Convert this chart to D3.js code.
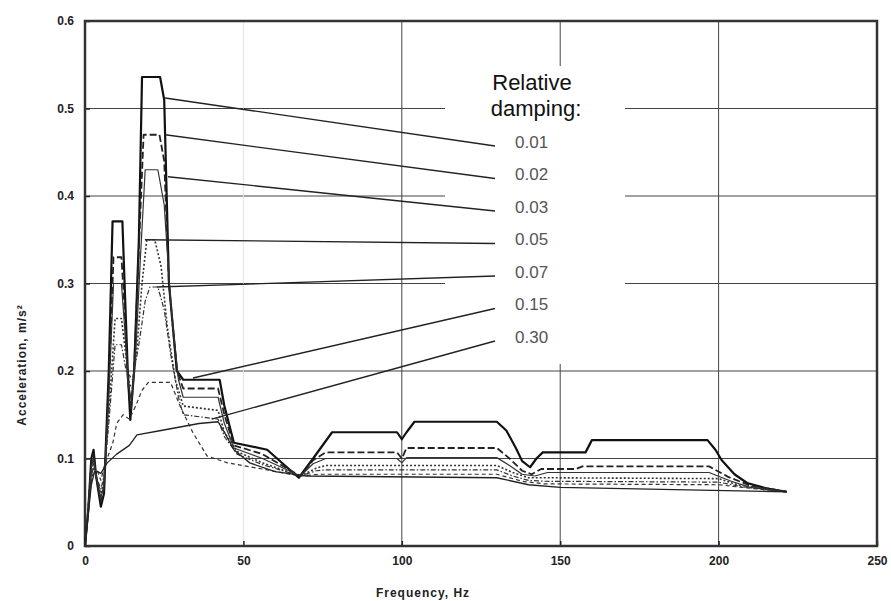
<!DOCTYPE html>
<html>
<head>
<meta charset="utf-8">
<script src="https://cdn.jsdelivr.net/npm/d3@7"></script>
<style>
body { margin: 0; background: #fff; }
svg { display: block; font-family: "Liberation Sans", Arial, sans-serif; }
.axis text { font-size: 12px; font-weight: bold; fill: #222; }
.axis path { display: none; }
.axis line { stroke: #222; stroke-width: 1.5; }
</style>
</head>
<body>
<script>
var width = 891, height = 601;
var margin = {left: 85, top: 21, right: 14, bottom: 55};

// damping ratios shown in the legend, top to bottom
var dampings = ["0.01", "0.02", "0.03", "0.05", "0.07", "0.15", "0.30"];

// response spectra: [frequency Hz, acceleration m/s2]
var acc001 = [[0,0],[1,0.04],[2,0.1],[2.7,0.11],[3.5,0.08],[5,0.045],[6,0.06],[7.5,0.2],[8.7,0.371],[11.8,0.371],[12.5,0.3],[13.5,0.2],[14.3,0.144],[15.5,0.2],[17,0.35],[18,0.536],[23.7,0.536],[25,0.51],[26.5,0.3],[29,0.2],[31,0.19],[42.5,0.19],[44,0.16],[47,0.118],[57.5,0.11],[67.5,0.078],[72,0.1],[78,0.13],[98.5,0.13],[100,0.122],[101.5,0.13],[104,0.142],[130,0.142],[133,0.132],[136,0.112],[138,0.097],[140.5,0.09],[142.5,0.1],[144.5,0.107],[158,0.107],[160,0.121],[196.5,0.121],[199,0.11],[201,0.098],[205,0.082],[209,0.072],[215,0.066],[221.5,0.062]];
var acc002 = [[0,0],[1,0.04],[2,0.095],[2.7,0.105],[3.5,0.08],[5,0.05],[6,0.065],[7.5,0.18],[9,0.33],[11.5,0.33],[12.5,0.27],[13.5,0.19],[14.5,0.155],[15.5,0.2],[17,0.34],[18.5,0.47],[23.5,0.47],[25,0.44],[26.5,0.3],[29,0.2],[31,0.18],[42,0.18],[44,0.15],[47,0.115],[56,0.105],[68,0.08],[72,0.098],[76,0.107],[98.5,0.107],[100,0.1],[101.5,0.112],[130,0.112],[134,0.1],[138,0.086],[141,0.082],[144,0.088],[155,0.088],[157,0.091],[197,0.091],[203,0.079],[210,0.069],[221.5,0.062]];
var acc003 = [[0,0],[1,0.04],[2,0.09],[2.7,0.1],[3.5,0.08],[5,0.055],[6,0.07],[7.5,0.17],[9,0.3],[11.5,0.3],[12.5,0.25],[13.5,0.19],[14.7,0.165],[16,0.22],[17.5,0.33],[19,0.43],[23,0.43],[25,0.39],[27,0.28],[29.5,0.19],[31,0.17],[42,0.17],[44,0.14],[47,0.112],[56,0.1],[68,0.08],[72,0.094],[76,0.1],[98.5,0.1],[100,0.095],[101.5,0.101],[130,0.101],[134,0.092],[138,0.082],[142,0.08],[146,0.084],[197,0.084],[204,0.074],[210,0.067],[221.5,0.062]];
var acc005 = [[0,0],[1,0.04],[2,0.085],[2.7,0.095],[3.5,0.08],[5,0.06],[6,0.075],[7.5,0.15],[9.5,0.26],[11.5,0.26],[12.5,0.23],[14,0.185],[15,0.18],[16.5,0.23],[18,0.3],[19.5,0.35],[22,0.35],[24,0.32],[26,0.25],[28.5,0.19],[31,0.16],[42,0.155],[44,0.13],[48,0.108],[56,0.095],[68,0.08],[73,0.089],[76,0.092],[130,0.092],[135,0.084],[140,0.078],[145,0.078],[200,0.077],[206,0.07],[221.5,0.062]];
var acc007 = [[0,0],[1,0.04],[2,0.08],[2.7,0.09],[3.5,0.08],[5,0.065],[6,0.08],[7.5,0.14],[9.5,0.23],[11.5,0.23],[13,0.2],[15,0.19],[17,0.23],[19,0.28],[20.5,0.296],[23,0.296],[25,0.27],[27,0.22],[29.5,0.17],[31,0.15],[42,0.145],[44,0.125],[48,0.105],[56,0.093],[68,0.08],[73,0.086],[76,0.087],[130,0.087],[135,0.08],[140,0.075],[145,0.074],[200,0.073],[207,0.068],[221.5,0.062]];
var acc015 = [[0,0],[1,0.04],[2,0.075],[3,0.09],[4,0.085],[5,0.075],[6,0.09],[8.8,0.118],[10,0.14],[12,0.15],[14,0.145],[16,0.16],[18,0.178],[20,0.187],[27,0.187],[30,0.16],[34,0.13],[38.5,0.103],[45,0.095],[56,0.088],[68,0.08],[74,0.082],[130,0.082],[138,0.074],[145,0.071],[200,0.07],[210,0.066],[221.5,0.062]];
var acc030 = [[0,0],[1,0.035],[2,0.07],[3,0.085],[4,0.085],[5,0.083],[7,0.095],[10,0.105],[14,0.115],[16.4,0.127],[24,0.132],[30,0.136],[36,0.14],[42,0.142],[44,0.13],[47,0.11],[52,0.095],[60,0.085],[70,0.08],[130,0.078],[140,0.07],[150,0.067],[221.5,0.062]];
var spectra = [acc001, acc002, acc003, acc005, acc007, acc015, acc030];

// point on each curve where its leader line to the legend label starts
var leaderStart = [[25.3,0.512],[25.3,0.47],[26.2,0.422],[18.9,0.35],[22.7,0.296],[34.1,0.192],[40,0.145]];

var xTicks = [0, 50, 100, 150, 200, 250];
var yTicks = [0, 0.1, 0.2, 0.3, 0.4, 0.5, 0.6];

var lineStyles = [
  {dash: null, w: 2.2, c: "#111"},
  {dash: "7,3", w: 1.8, c: "#222"},
  {dash: null, w: 1.2, c: "#333"},
  {dash: "2,2", w: 1.6, c: "#333"},
  {dash: "5,2,1.5,2", w: 1.2, c: "#333"},
  {dash: "4,3", w: 1.2, c: "#333"},
  {dash: null, w: 1.3, c: "#222"}
];

var x = d3.scaleLinear().domain([0, 250]).range([margin.left, width - margin.right + 0]);
x.range([85, 877]);
var y = d3.scaleLinear().domain([0, 0.6]).range([546, 21]);

var svg = d3.select("body").append("svg")
    .attr("width", width)
    .attr("height", height);

// grid
svg.append("g").selectAll("line.hgrid")
   .data(yTicks.slice(1, -1))
   .enter().append("line")
   .attr("x1", x(0)).attr("x2", x(250))
   .attr("y1", function(d){ return y(d); }).attr("y2", function(d){ return y(d); })
   .style("stroke", "#444").style("stroke-width", 1);

svg.append("g").selectAll("line.vgrid")
   .data(xTicks.slice(1, -1))
   .enter().append("line")
   .attr("x1", function(d){ return x(d); }).attr("x2", function(d){ return x(d); })
   .attr("y1", y(0)).attr("y2", y(0.6))
   .style("stroke", function(d){ return d === 50 ? "#e4e4e4" : "#444"; })
   .style("stroke-width", 1);

// white panel behind the legend
svg.append("rect")
   .attr("x", 445).attr("y", 66)
   .attr("width", 180).attr("height", 298)
   .style("fill", "#fff");

// axes
svg.append("g")
   .attr("class", "axis")
   .attr("transform", "translate(0," + y(0) + ")")
   .call(d3.axisBottom(x).tickValues(xTicks).tickFormat(d3.format("d")).tickSizeInner(-5).tickSizeOuter(0).tickPadding(10));

svg.append("g")
   .attr("class", "axis")
   .attr("transform", "translate(" + x(0) + ",0)")
   .call(d3.axisLeft(y).tickValues(yTicks).tickFormat(function(d){ return d === 0 ? "0" : d3.format(".1f")(d); }).tickSizeInner(-5).tickSizeOuter(0).tickPadding(11));

// frame
svg.append("rect")
   .attr("x", x(0)).attr("y", y(0.6))
   .attr("width", x(250) - x(0)).attr("height", y(0) - y(0.6))
   .style("fill", "none").style("stroke", "#333").style("stroke-width", 2.5);

// curves
var line = d3.line()
    .x(function(d){ return x(d[0]); })
    .y(function(d){ return y(d[1]); });

svg.append("g").selectAll("path.spectrum")
   .data(spectra)
   .enter().append("path")
   .attr("class", "spectrum")
   .attr("d", line)
   .style("fill", "none")
   .style("stroke", function(d, i){ return lineStyles[i].c; })
   .style("stroke-width", function(d, i){ return lineStyles[i].w; })
   .style("stroke-dasharray", function(d, i){ return lineStyles[i].dash; })
   .style("stroke-linejoin", "round");

// legend
var labelX = 515, labelY0 = 142, labelStep = 32.5;

svg.append("text")
   .attr("x", 532).attr("y", 90)
   .attr("text-anchor", "middle")
   .style("font-size", "22px").style("fill", "#111")
   .text("Relative");
svg.append("text")
   .attr("x", 536).attr("y", 116)
   .attr("text-anchor", "middle")
   .style("font-size", "22px").style("fill", "#111")
   .text("damping:");

svg.append("g").selectAll("line.leader")
   .data(leaderStart)
   .enter().append("line")
   .attr("x1", function(d){ return x(d[0]); })
   .attr("y1", function(d){ return y(d[1]); })
   .attr("x2", labelX - 20)
   .attr("y2", function(d, i){ return labelY0 + i * labelStep + 4; })
   .style("stroke", "#222").style("stroke-width", 1.3);

svg.append("g").selectAll("text.dlabel")
   .data(dampings)
   .enter().append("text")
   .attr("x", labelX)
   .attr("y", function(d, i){ return labelY0 + i * labelStep; })
   .attr("dy", "0.35em")
   .style("font-size", "17px").style("fill", "#555")
   .text(function(d){ return d; });

// axis titles
svg.append("text")
   .attr("x", 423).attr("y", 597)
   .attr("text-anchor", "middle")
   .style("font-size", "12px").style("font-weight", "bold").style("fill", "#222")
   .style("letter-spacing", "1px")
   .text("Frequency, Hz");

svg.append("text")
   .attr("transform", "translate(26,365) rotate(-90)")
   .attr("text-anchor", "middle")
   .style("font-size", "12px").style("font-weight", "bold").style("fill", "#222")
   .style("letter-spacing", "1px")
   .text("Acceleration, m/s\u00b2");
</script>
</body>
</html>
